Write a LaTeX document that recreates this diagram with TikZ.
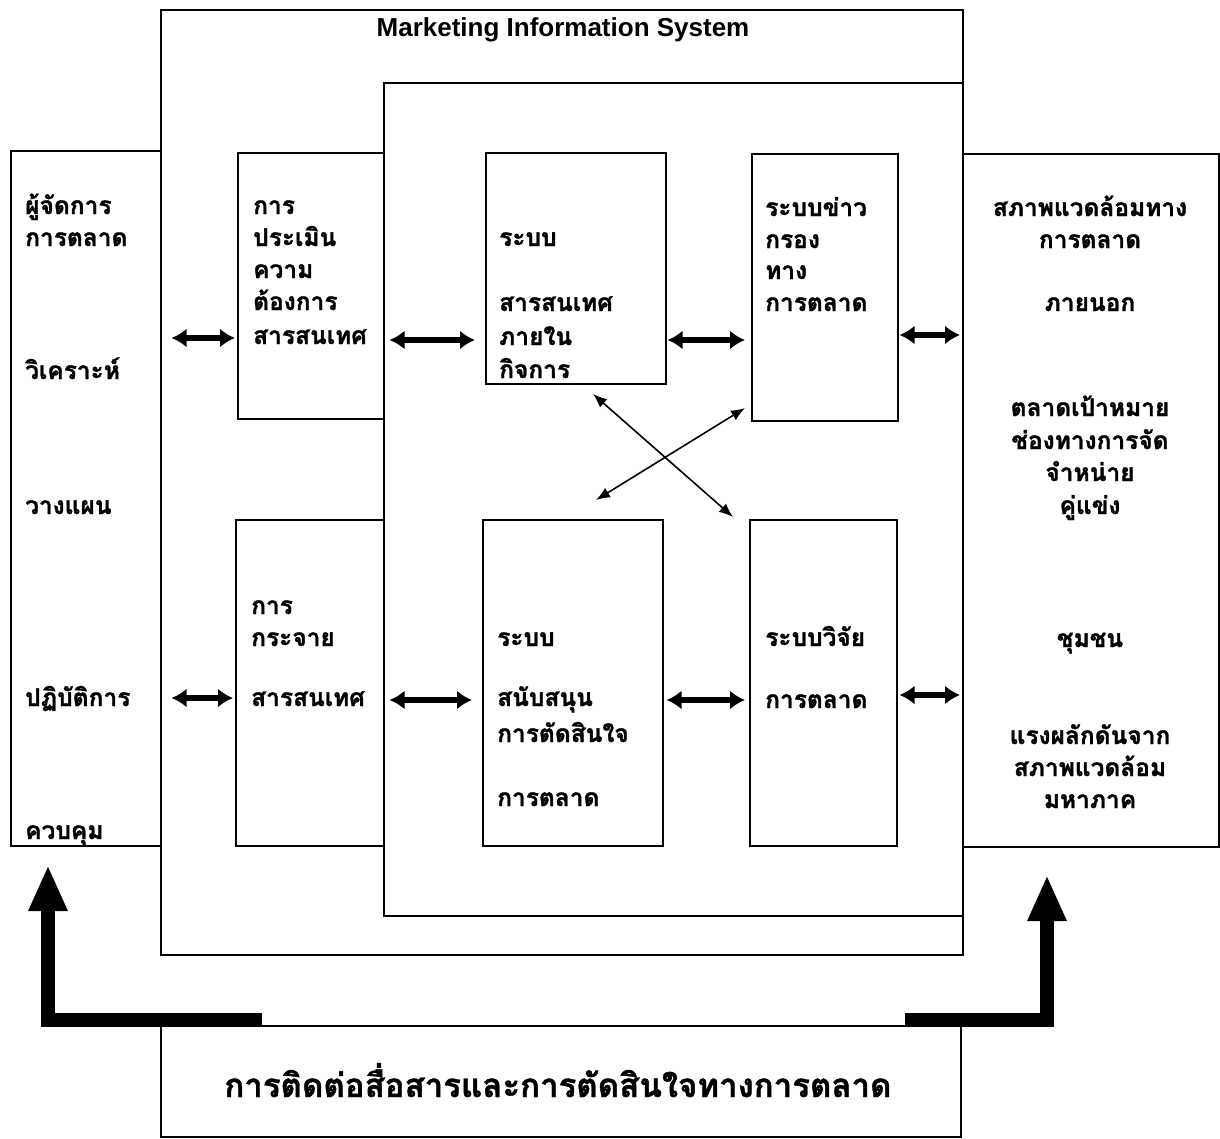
\documentclass[tikz,border=0pt]{standalone}
\usepackage{fontspec}
\setmainfont{Liberation Sans}
\newfontfamily\thaifont[Script=Thai,BoldFeatures={FakeBold=1.2}]{Loma}
\usetikzlibrary{arrows.meta}
\tikzset{
  box/.style={draw, line width=1.5pt, inner sep=0pt, anchor=north west, fill=white},
  lbl/.style={font=\thaifont\bfseries\fontsize{24.5}{27}\selectfont, inner sep=0pt, anchor=base west},
  clbl/.style={lbl, anchor=base},
  dbl/.style={line width=6pt, {Latex[length=15pt,width=19pt]}-{Latex[length=15pt,width=19pt]}},
  thin/.style={line width=1.6pt, {Latex[length=14pt,width=11pt]}-{Latex[length=14pt,width=11pt]}},
  big/.style={line width=14pt, line join=miter, -{Triangle[length=46pt,width=36pt]}},
}
\begin{document}
\begin{tikzpicture}[x=1pt,y=-1pt]
\useasboundingbox (0,0) rectangle (1220,1138);
% frames
\node[box, minimum width=802pt, minimum height=945pt] (mis) at (160,9) {};
\node[font=\bfseries\fontsize{26}{28}\selectfont, inner sep=0pt] (title) at (563,30) {Marketing Information System};
\node[box, minimum width=579pt, minimum height=833pt] (inner) at (383,82) {};
% side boxes
\node[box, minimum width=150pt, minimum height=695pt] (mgr) at (10,150) {};
\node[box, minimum width=256pt, minimum height=693pt] (env) at (962,153) {};
% inner boxes
\node[box, minimum width=146pt, minimum height=266pt] (eval) at (237,152) {};
\node[box, minimum width=148pt, minimum height=326pt] (dist) at (235,519) {};
\node[box, minimum width=180pt, minimum height=231pt] (iis) at (485,152) {};
\node[box, minimum width=146pt, minimum height=267pt] (intel) at (751,153) {};
\node[box, minimum width=180pt, minimum height=326pt] (dss) at (482,519) {};
\node[box, minimum width=147pt, minimum height=326pt] (mr) at (749,519) {};
% bottom box
\node[box, minimum width=800pt, minimum height=111pt] (comm) at (160,1025) {};
\node[font=\thaifont\bfseries\fontsize{33}{36}\selectfont, inner sep=0pt, anchor=base] (commt) at (558,1097) {การติดต่อสื่อสารและการตัดสินใจทางการตลาด};
% texts: manager
\node[lbl] (m1) at (25,214) {ผู้จัดการ};
\node[lbl] (m2) at (25,246) {การตลาด};
\node[lbl] (m3) at (25,379) {วิเคราะห์};
\node[lbl] (m4) at (25,514) {วางแผน};
\node[lbl] (m5) at (25,706) {ปฏิบัติการ};
\node[lbl] (m6) at (25,839) {ควบคุม};
% eval
\node[lbl] (e1) at (253,214) {การ};
\node[lbl] (e2) at (253,246) {ประเมิน};
\node[lbl] (e3) at (253,278) {ความ};
\node[lbl] (e4) at (253,310) {ต้องการ};
\node[lbl] (e5) at (253,344) {สารสนเทศ};
% iis
\node[lbl] (i1) at (499,246) {ระบบ};
\node[lbl] (i2) at (499,311) {สารสนเทศ};
\node[lbl] (i3) at (499,345) {ภายใน};
\node[lbl] (i4) at (499,378) {กิจการ};
% intel
\node[lbl] (n1) at (765,216) {ระบบข่าว};
\node[lbl] (n2) at (765,248) {กรอง};
\node[lbl] (n3) at (765,279) {ทาง};
\node[lbl] (n4) at (765,311) {การตลาด};
% env
\node[clbl] (v1) at (1090,216) {สภาพแวดล้อมทาง};
\node[clbl] (v2) at (1090,248) {การตลาด};
\node[clbl] (v3) at (1090,311) {ภายนอก};
\node[clbl] (v4) at (1090,416) {ตลาดเป้าหมาย};
\node[clbl] (v5) at (1090,449) {ช่องทางการจัด};
\node[clbl] (v6) at (1090,481) {จำหน่าย};
\node[clbl] (v7) at (1090,514) {คู่แข่ง};
\node[clbl] (v8) at (1090,647) {ชุมชน};
\node[clbl] (v9) at (1090,744) {แรงผลักดันจาก};
\node[clbl] (v10) at (1090,776) {สภาพแวดล้อม};
\node[clbl] (v11) at (1090,808) {มหาภาค};
% dist
\node[lbl] (d1) at (251,614) {การ};
\node[lbl] (d2) at (251,646) {กระจาย};
\node[lbl] (d3) at (251,706) {สารสนเทศ};
% dss
\node[lbl] (s1) at (497,646) {ระบบ};
\node[lbl] (s2) at (497,706) {สนับสนุน};
\node[lbl] (s3) at (497,742) {การตัดสินใจ};
\node[lbl] (s4) at (497,806) {การตลาด};
% mr
\node[lbl] (r1) at (765,646) {ระบบวิจัย};
\node[lbl] (r2) at (765,708) {การตลาด};
% row levels
\coordinate (ya) at (0,338);
\coordinate (yb) at (0,340);
\coordinate (yc) at (0,335);
\coordinate (yd) at (0,698);
\coordinate (ye) at (0,700);
\coordinate (yf) at (0,695);
% double arrows
\draw[dbl, shorten <=10pt, shorten >=2pt] (mgr.east |- ya) -- (eval.west |- ya);
\draw[dbl, shorten <=5pt, shorten >=10pt] (eval.east |- yb) -- (iis.west |- yb);
\draw[dbl, shorten <=1pt, shorten >=6pt] (iis.east |- yb) -- (intel.west |- yb);
\draw[dbl, shorten <=1pt, shorten >=2pt] (intel.east |- yc) -- (env.west |- yc);
\draw[dbl, shorten <=10pt, shorten >=2pt] (mgr.east |- yd) -- (dist.west |- yd);
\draw[dbl, shorten <=5pt, shorten >=10pt] (dist.east |- ye) -- (dss.west |- ye);
\draw[dbl, shorten <=3pt, shorten >=4pt] (dss.east |- ye) -- (mr.west |- ye);
\draw[dbl, shorten <=2pt, shorten >=2pt] (mr.east |- yf) -- (env.west |- yf);
% cross arrows
\coordinate (ca1) at (593,394);
\coordinate (ca2) at (733,517);
\coordinate (cb1) at (596,500);
\coordinate (cb2) at (745,408);
\draw[thin] (ca1) -- (ca2);
\draw[thin] (cb1) -- (cb2);
% big L arrows
\coordinate (la) at (262,1020);
\coordinate (lc) at (48,1020);
\coordinate (lt) at (48,865);
\coordinate (ra) at (905,1020);
\coordinate (rc) at (1047,1020);
\coordinate (rt) at (1047,875);
\draw[big] (la) -- (lc) -- (lt);
\draw[big] (ra) -- (rc) -- (rt);
\end{tikzpicture}
\end{document}
